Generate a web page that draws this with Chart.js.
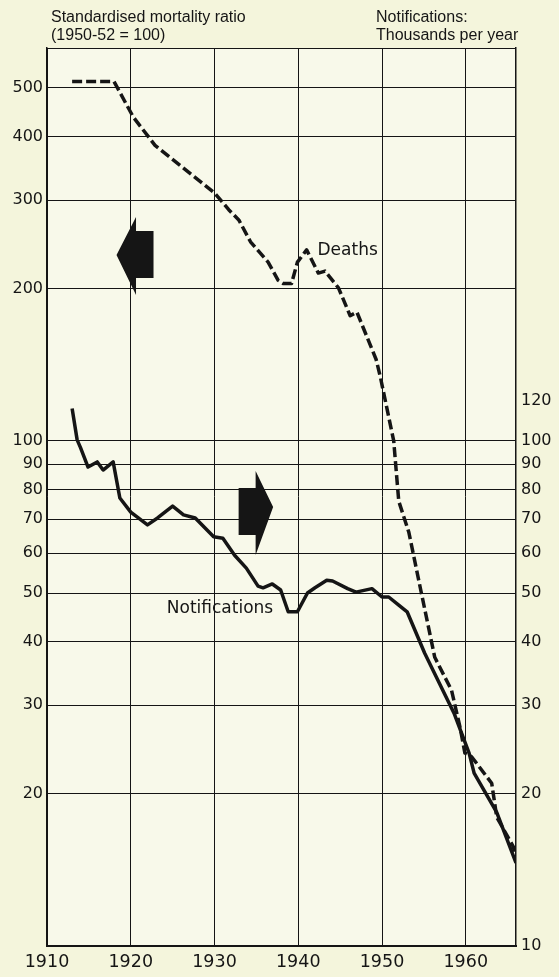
<!DOCTYPE html>
<html>
<head>
<meta charset="utf-8">
<title>Standardised mortality ratio and notifications</title>
<script src="https://cdn.jsdelivr.net/npm/chart.js@4.4.1/dist/chart.umd.min.js"></script>
<style>
  html, body { margin: 0; padding: 0; background: #f4f5dc; }
  #wrap { position: relative; width: 559px; height: 977px; }
</style>
</head>
<body>
<div id="wrap"><canvas id="tbChart" width="559" height="977"></canvas></div>
<script>
// 死亡 (左轴, 标准化死亡比) 与 通报 (右轴, 千/年) —— 两轴共用同一对数刻度
const deathYears = [1913, 1918, 1920.3, 1922.9, 1930, 1931.7, 1932.9, 1934.3, 1936.4, 1937.6, 1938.2, 1939.2, 1939.9, 1941, 1942.4, 1943.2, 1944.8, 1946.2, 1947, 1949.3, 1949.8, 1951.4, 1952, 1953.2, 1954.7, 1956.3, 1958.3, 1959.3, 1959.9, 1960.7, 1963.1, 1963.7, 1965.7, 1966];
const deathValues = [515, 515, 438, 385, 310, 287, 274, 248, 226, 208, 205, 205, 226, 239, 215, 217, 201, 177, 180, 145, 134, 100, 76, 66, 50, 37.3, 32.1, 27.2, 24.1, 23.7, 21.0, 18.0, 15.7, 14.7];

const notifYears = [1913, 1913.6, 1914, 1914.9, 1916, 1916.7, 1917.9, 1918.7, 1920, 1922, 1923.2, 1925, 1926.3, 1927.7, 1929.9, 1931, 1932.4, 1933.8, 1935.2, 1935.8, 1936.9, 1937.9, 1938.8, 1939.9, 1941.1, 1942, 1943.4, 1944.1, 1945.9, 1946.9, 1948.8, 1950, 1950.8, 1952, 1953, 1955.1, 1958.6, 1960.4, 1961, 1963.7, 1966];
const notifValues = [116, 100.5, 97, 88.8, 90.9, 87.6, 90.9, 77.1, 72.3, 68.2, 70.4, 74.3, 71.4, 70.4, 64.6, 64.2, 59.4, 56.0, 51.6, 51.2, 52.1, 50.7, 45.9, 45.9, 50, 51.2, 53.0, 52.8, 51, 50.2, 51, 49.1, 49.1, 47.3, 45.9, 38.0, 28.9, 24.1, 22.0, 18.4, 14.6];

const yearTicks = [1910, 1920, 1930, 1940, 1950, 1960];
const leftTicks = [10, 20, 30, 40, 50, 60, 70, 80, 90, 100, 200, 300, 400, 500, 600];
const leftTickLabels = ['', '20', '30', '40', '50', '60', '70', '80', '90', '100', '200', '300', '400', '500', ''];
const rightTicks = [10, 20, 30, 40, 50, 60, 70, 80, 90, 100, 120];
const rightTickLabels = ['10', '20', '30', '40', '50', '60', '70', '80', '90', '100', '120'];

const INK = '#151515';
const toPoints = (xs, ys) => xs.map((x, i) => ({ x, y: ys[i] }));

// 背景: 纸张底色
const paperPlugin = {
  id: 'paper',
  beforeDraw(chart) {
    const { ctx, chartArea: a } = chart;
    ctx.save();
    ctx.fillStyle = '#f4f5dc';
    ctx.fillRect(0, 0, chart.width, chart.height);
    ctx.fillStyle = '#f8f9ea';
    ctx.fillRect(a.left, a.top, a.right - a.left, a.bottom - a.top);
    ctx.restore();
  }
};

// 标题, 系列标签, 箭头
const notesPlugin = {
  id: 'notes',
  afterDraw(chart) {
    const { ctx, chartArea: a, scales: { x, y } } = chart;
    ctx.save();
    ctx.fillStyle = INK;
    ctx.textBaseline = 'alphabetic';
    ctx.textAlign = 'left';

    ctx.font = '16px "Liberation Sans", Arial, sans-serif';
    ctx.fillText('Standardised mortality ratio', a.left + 4, 22);
    ctx.fillText('(1950-52 = 100)', a.left + 4, 40);
    ctx.fillText('Notifications:', 376, 22);
    ctx.fillText('Thousands per year', 376, 40);

    ctx.font = '17px "DejaVu Sans", sans-serif';
    ctx.fillText('Deaths', x.getPixelForValue(1942.3), y.getPixelForValue(233));
    ctx.fillText('Notifications', x.getPixelForValue(1924.3), y.getPixelForValue(45.6));

    const drawArrow = (tx, ty, pts) => {
      ctx.beginPath();
      pts.forEach(([dx, dy], i) => {
        if (i === 0) ctx.moveTo(tx + dx, ty + dy);
        else ctx.lineTo(tx + dx, ty + dy);
      });
      ctx.closePath();
      ctx.fill();
    };
    // 左箭头 -> 左轴
    drawArrow(x.getPixelForValue(1918.3), y.getPixelForValue(233.5),
      [[0, 0], [19.5, -38], [19.5, -24], [37, -24], [37, 23], [19.5, 23], [19.5, 40]]);
    // 右箭头 -> 右轴
    drawArrow(x.getPixelForValue(1937), y.getPixelForValue(74),
      [[0, 0], [-17.5, -36], [-17.5, -19], [-34.5, -19], [-34.5, 28], [-17.5, 28], [-17.5, 48]]);
    ctx.restore();
  }
};

Chart.defaults.font.family = '"DejaVu Sans", sans-serif';
Chart.defaults.color = INK;

new Chart(document.getElementById('tbChart').getContext('2d'), {
  type: 'line',
  data: {
    datasets: [
      {
        label: 'Deaths',
        data: toPoints(deathYears, deathValues),
        yAxisID: 'y',
        borderColor: INK,
        borderWidth: 3.5,
        borderDash: [10, 4],
        borderCapStyle: 'butt',
        borderJoinStyle: 'round',
        pointRadius: 0,
        tension: 0,
        fill: false
      },
      {
        label: 'Notifications',
        data: toPoints(notifYears, notifValues),
        yAxisID: 'y2',
        borderColor: INK,
        borderWidth: 3.5,
        borderJoinStyle: 'round',
        pointRadius: 0,
        tension: 0,
        fill: false
      }
    ]
  },
  options: {
    responsive: false,
    animation: false,
    layout: { padding: { top: 48, left: 0, right: 0, bottom: 0 } },
    plugins: {
      legend: { display: false },
      title: { display: false },
      tooltip: { enabled: false }
    },
    scales: {
      x: {
        type: 'linear',
        position: 'bottom',
        min: 1910,
        max: 1966,
        afterBuildTicks: (axis) => { axis.ticks = yearTicks.map(v => ({ value: v })); },
        afterFit: (axis) => { axis.height = 31; },
        ticks: {
          autoSkip: false,
          maxRotation: 0,
          padding: 6,
          font: { size: 17.5 },
          callback: (v) => String(v)
        },
        grid: { color: INK, lineWidth: 1, drawTicks: false },
        border: { display: true, color: INK, width: 2 }
      },
      y: {
        type: 'logarithmic',
        position: 'left',
        min: 10,
        max: 600,
        afterBuildTicks: (axis) => { axis.ticks = leftTicks.map(v => ({ value: v })); },
        afterFit: (axis) => { axis.width = 47; },
        ticks: {
          autoSkip: false,
          padding: 4,
          font: { size: 16 },
          callback: (v, i) => leftTickLabels[i]
        },
        grid: { color: INK, lineWidth: 1, drawTicks: false },
        border: { display: true, color: INK, width: 1.5 }
      },
      y2: {
        type: 'logarithmic',
        position: 'right',
        min: 10,
        max: 600,
        afterBuildTicks: (axis) => { axis.ticks = rightTicks.map(v => ({ value: v })); },
        afterFit: (axis) => { axis.width = 43; },
        ticks: {
          autoSkip: false,
          padding: 5,
          font: { size: 16 },
          callback: (v, i) => rightTickLabels[i]
        },
        grid: { display: false, drawTicks: false },
        border: { display: true, color: INK, width: 1.5 }
      }
    }
  },
  plugins: [paperPlugin, notesPlugin]
});
</script>
</body>
</html>
